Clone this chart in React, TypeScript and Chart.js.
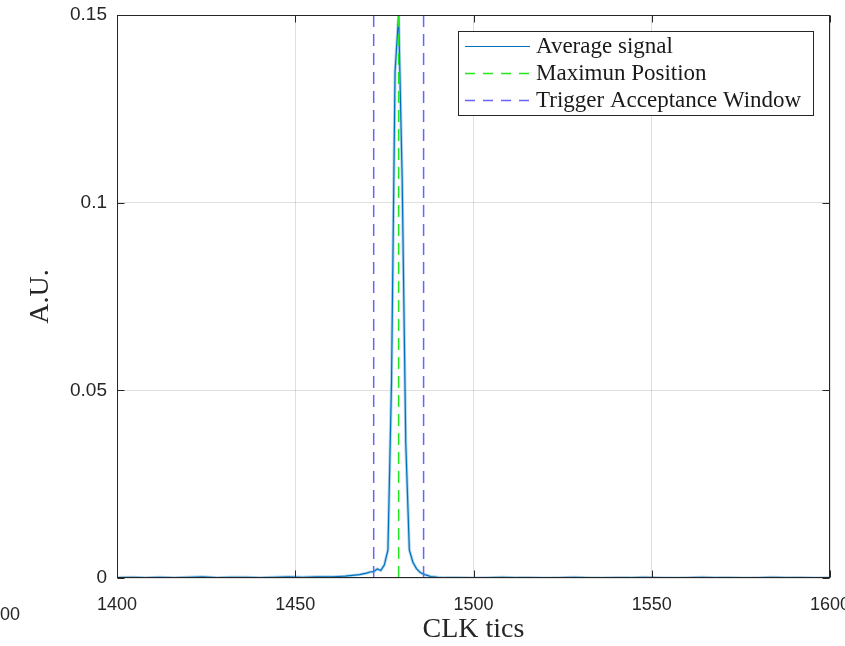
import React, { useEffect, useRef } from "react";
import { Chart, registerables } from "chart.js";

Chart.register(...registerables);

// ---- data ----
const signalX = [
  1400, 1404, 1408, 1412, 1416, 1420, 1424, 1428, 1432, 1436, 1440, 1444, 1448, 1452, 1456, 1460,
  1462, 1464, 1466, 1468, 1469, 1470, 1471, 1472, 1473, 1474, 1475, 1476, 1477, 1478, 1479, 1480,
  1481, 1482, 1483, 1484, 1485, 1486, 1487, 1488, 1490, 1492,
  1496, 1500, 1504, 1508, 1512, 1516, 1520, 1524, 1528, 1532, 1536, 1540, 1544, 1548, 1552, 1556,
  1560, 1564, 1568, 1572, 1576, 1580, 1584, 1588, 1592, 1596, 1600,
];
const signalY = [
  0.0001, 0.0002, 0.0001, 0.0002, 0.0001, 0.0002, 0.0003, 0.0001, 0.0002, 0.0002, 0.0001, 0.0002, 0.0003, 0.0002, 0.0003, 0.0003,
  0.0004, 0.0005, 0.0007, 0.0009, 0.0011, 0.0013, 0.0016, 0.0017, 0.0024, 0.002, 0.0035, 0.0075, 0.052, 0.135, 0.15, 0.106,
  0.036, 0.0075, 0.0042, 0.0025, 0.0015, 0.001, 0.0007, 0.0004, 0.0002, 0.0001,
  0.0001, 0.0, 0.0001, 0.0002, 0.0001, 0.0001, 0.0, 0.0001, 0.0002, 0.0001, 0.0, 0.0001, 0.0001, 0.0002, 0.0001, 0.0,
  0.0001, 0.0002, 0.0001, 0.0001, 0.0, 0.0001, 0.0002, 0.0001, 0.0001, 0.0, 0.0001,
];
const maxPosition = 1479;
const windowEdges = [1472, 1486];
const yLimits = [0, 0.15];
const xLimits = [1400, 1600];
const xTicks = [1400, 1450, 1500, 1550, 1600];
const yTicks = [0, 0.05, 0.1, 0.15];
const legendLabels = ["Average signal", "Maximun Position", "Trigger Acceptance Window"];
const xTitle = "CLK tics";
const yTitle = "A.U.";
const neighbourLabel = "00";

// ---- styles ----
const AXIS = "#262626";
const SIGNAL = "#0072BD";
const SIGNAL_HALO = "rgba(95,170,220,0.5)";
const GREEN = "#22e622";
const BLUE = "#6464ff";
const TICK_FONT = "Liberation Sans";
const SERIF = "Liberation Serif";

const matlabAxes = {
  id: "matlabAxes",
  afterDatasetsDraw(chart: any) {
    const { ctx, chartArea: a, scales } = chart;
    const L = Math.round(a.left) + 0.5;
    const R = Math.round(a.right) - 0.5;
    const T = Math.round(a.top) + 0.5;
    const B = Math.round(a.bottom) - 0.5;
    ctx.save();
    ctx.strokeStyle = AXIS;
    ctx.lineWidth = 1;
    ctx.strokeRect(L, T, R - L, B - T);
    const tl = 7;
    ctx.beginPath();
    xTicks.forEach((v) => {
      const px = Math.round(scales.x.getPixelForValue(v)) + 0.5;
      ctx.moveTo(px, B);
      ctx.lineTo(px, B - tl);
      ctx.moveTo(px, T);
      ctx.lineTo(px, T + tl);
    });
    yTicks.forEach((v) => {
      const py = Math.round(scales.y.getPixelForValue(v)) + 0.5;
      ctx.moveTo(L, py);
      ctx.lineTo(L + tl, py);
      ctx.moveTo(R, py);
      ctx.lineTo(R - tl, py);
    });
    ctx.stroke();

    // legend box
    const bx = 458.5, by = 31.5, bw = 355, bh = 84;
    ctx.fillStyle = "#ffffff";
    ctx.fillRect(bx, by, bw, bh);
    ctx.strokeStyle = AXIS;
    ctx.strokeRect(bx, by, bw, bh);
    const rows = [46.5, 73.5, 100.5];
    const colors = [SIGNAL, GREEN, BLUE];
    const dashes = [[], [10, 8], [10, 8]];
    const widths = [1.2, 1.5, 1.5];
    rows.forEach((ry, i) => {
      ctx.beginPath();
      ctx.setLineDash(dashes[i]);
      ctx.strokeStyle = colors[i];
      ctx.lineWidth = widths[i];
      ctx.moveTo(465, ry);
      ctx.lineTo(530, ry);
      ctx.stroke();
    });
    ctx.setLineDash([]);
    ctx.fillStyle = "#1a1a1a";
    ctx.font = `23px "${SERIF}"`;
    ctx.textBaseline = "middle";
    ctx.textAlign = "left";
    rows.forEach((ry, i) => ctx.fillText(legendLabels[i], 536, ry));
    ctx.restore();
  },
};

export default function App() {
  const ref = useRef<HTMLCanvasElement | null>(null);
  useEffect(() => {
    if (!ref.current) return;
    const pts = signalX.map((x, i) => ({ x, y: signalY[i] }));
    const vline = (x: number) => [
      { x, y: yLimits[0] },
      { x, y: yLimits[1] },
    ];
    const dashed = (label: string, data: any, color: string, order: number) => ({
      label,
      data,
      borderColor: color,
      borderWidth: 1.5,
      borderDash: [12, 7],
      pointRadius: 0,
      order,
    });
    const chart = new Chart(ref.current, {
      type: "line",
      data: {
        datasets: [
          dashed(legendLabels[1], vline(maxPosition), GREEN, 0),
          dashed(legendLabels[2], vline(windowEdges[0]), BLUE, 1),
          dashed(legendLabels[2] + " (end)", vline(windowEdges[1]), BLUE, 1),
          {
            label: legendLabels[0],
            data: pts,
            borderColor: SIGNAL,
            borderWidth: 1.2,
            pointRadius: 0,
            tension: 0,
            order: 2,
          },
          {
            label: "halo",
            data: pts,
            borderColor: SIGNAL_HALO,
            borderWidth: 3,
            pointRadius: 0,
            tension: 0,
            order: 3,
          },
        ],
      },
      options: {
        animation: false,
        responsive: false,
        maintainAspectRatio: false,
        devicePixelRatio: 1,
        layout: { padding: { top: 15, right: 70, bottom: 0, left: 0 } },
        plugins: { legend: { display: false }, tooltip: { enabled: false } },
        scales: {
          x: {
            type: "linear",
            min: xLimits[0],
            max: xLimits[1],
            afterBuildTicks: (s: any) => {
              s.ticks = xTicks.map((v) => ({ value: v }));
            },
            afterFit: (s: any) => {
              s.height = 68;
              s.paddingLeft = 0;
              s.paddingRight = 0;
            },
            grid: { color: "rgba(38,38,38,0.15)", lineWidth: 1, drawTicks: false },
            border: { display: false },
            ticks: {
              autoSkip: false,
              maxRotation: 0,
              padding: 16,
              color: AXIS,
              font: { family: TICK_FONT, size: 18 },
              callback: (v: any) => String(v),
            },
            title: {
              display: true,
              text: xTitle,
              color: AXIS,
              font: { family: SERIF, size: 28 },
              padding: { top: 0, bottom: 0 },
            },
          },
          y: {
            type: "linear",
            min: yLimits[0],
            max: yLimits[1],
            afterBuildTicks: (s: any) => {
              s.ticks = yTicks.map((v) => ({ value: v }));
            },
            afterFit: (s: any) => {
              s.width = 117;
              s.paddingTop = 0;
              s.paddingBottom = 0;
            },
            grid: { color: "rgba(38,38,38,0.15)", lineWidth: 1, drawTicks: false },
            border: { display: false },
            ticks: {
              padding: 10,
              color: AXIS,
              font: { family: TICK_FONT, size: 19 },
              callback: (v: any) => String(Number(Number(v).toFixed(3))),
            },
            title: {
              display: true,
              text: yTitle,
              color: AXIS,
              font: { family: SERIF, size: 28 },
              padding: { top: 24, bottom: 0 },
            },
          },
        },
      },
      plugins: [matlabAxes],
    } as any);
    return () => chart.destroy();
  }, []);

  return (
    <div
      style={{
        position: "fixed",
        left: 0,
        top: 0,
        width: 845,
        height: 646,
        overflow: "hidden",
        background: "#ffffff",
      }}
    >
      <canvas ref={ref} width={900} height={646} style={{ display: "block" }} />
      <div
        style={{
          position: "absolute",
          left: 0,
          top: 604,
          fontFamily: TICK_FONT,
          fontSize: 18,
          color: AXIS,
          lineHeight: "20px",
        }}
      >
        {neighbourLabel}
      </div>
    </div>
  );
}
